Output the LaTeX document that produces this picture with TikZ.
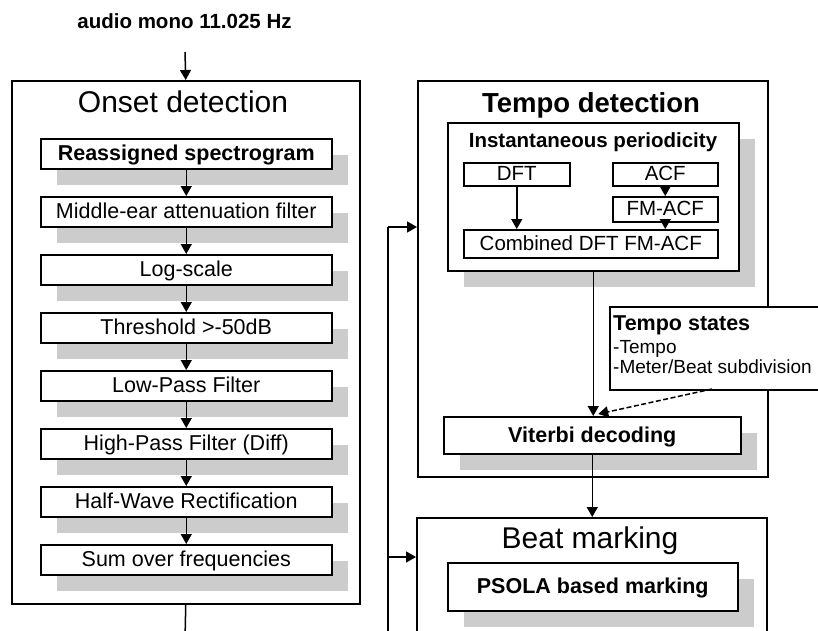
\documentclass[tikz,border=0pt]{standalone}
\usepackage{fontspec}
\setmainfont{Liberation Sans}
\usetikzlibrary{arrows.meta,shadows,calc}
\definecolor{shd}{RGB}{204,204,204}
\begin{document}
\begin{tikzpicture}[x=1pt,y=-1pt,
  every node/.style={inner sep=0pt},
  ln/.style={line width=1.5pt},
  frame/.style={draw, line width=1.5pt, anchor=north west},
  box/.style={draw, fill=white, line width=1.5pt, anchor=north west, text height=15pt, text depth=1pt, font=\fontsize{21.5}{25}\selectfont},
  sbox/.style={box, font=\fontsize{20.5}{24}\selectfont, text height=14pt},
  shd/.style={drop shadow={shadow xshift=16pt, shadow yshift=-16pt, fill=shd, opacity=1}},
  arr/.style={line width=1.5pt, -{Triangle[width=11pt,length=10pt]}},
  title/.style={anchor=base, font=\fontsize{30}{34}\selectfont},
  btitle/.style={anchor=base, font=\bfseries\fontsize{27.5}{32}\selectfont}
]
\useasboundingbox (0,0) rectangle (818,630);

% outer frames
\node[frame, minimum width=348pt, minimum height=523pt] (onset) at (11,80) {};
\node[frame, minimum width=350pt, minimum height=396pt] (tempo) at (417,80) {};
\node[frame, minimum width=350pt, minimum height=160pt] (beat) at (416,517) {};

% input
\node[anchor=base, font=\bfseries\fontsize{20.5}{24}\selectfont] (audio) at (184.5,28) {audio mono 11.025 Hz};
\coordinate (audioin) at (185,52);

% titles
\node[title] (onsett) at (183,112) {Onset detection};
\node[btitle] (tempot) at (591,112) {Tempo detection};
\node[title] (beatt) at (590,548) {Beat marking};

% onset chain
\node[box, shd, minimum width=291pt, minimum height=30pt] (o1) at (40,138) {\bfseries Reassigned spectrogram};
\node[box, shd, minimum width=291pt, minimum height=30pt] (o2) at (40,196) {Middle-ear attenuation filter};
\node[box, shd, minimum width=291pt, minimum height=30pt] (o3) at (40,254) {Log-scale};
\node[box, shd, minimum width=291pt, minimum height=30pt] (o4) at (40,312) {Threshold >-50dB};
\node[box, shd, minimum width=291pt, minimum height=30pt] (o5) at (40,370) {Low-Pass Filter};
\node[box, shd, minimum width=291pt, minimum height=30pt] (o6) at (40,428) {High-Pass Filter (Diff)};
\node[box, shd, minimum width=291pt, minimum height=30pt] (o7) at (40,486) {Half-Wave Rectification};
\node[box, shd, minimum width=291pt, minimum height=30pt] (o8) at (40,544) {Sum over frequencies};

% tempo detection
\node[draw, fill=white, line width=1.5pt, anchor=north west, shd, minimum width=291pt, minimum height=148pt] (inst) at (447,122) {};
\node[anchor=base, font=\bfseries\fontsize{20.5}{24}\selectfont] (instt) at (593,147) {Instantaneous periodicity};
\node[sbox, minimum width=106pt, minimum height=23pt] (dft) at (463,162) {DFT};
\node[sbox, minimum width=105pt, minimum height=23pt] (acf) at (612,162) {ACF};
\node[sbox, minimum width=105pt, minimum height=25pt] (fmacf) at (612,196) {FM-ACF};
\node[sbox, minimum width=254pt, minimum height=28pt] (comb) at (463,229) {Combined DFT FM-ACF};

\node[box, shd, minimum width=297pt, minimum height=37pt] (vit) at (443,416) {\bfseries Viterbi decoding};

% tempo states
\node[draw, fill=white, line width=1.5pt, anchor=north west, minimum width=230pt, minimum height=83pt] (states) at (609,306) {};
\node[anchor=base west, font=\bfseries\fontsize{21.5}{25}\selectfont] (st1) at (613,330) {Tempo states};
\node[anchor=base west, font=\fontsize{19}{23}\selectfont] (st2) at (613,353) {-Tempo};
\node[anchor=base west, font=\fontsize{19}{23}\selectfont] (st3) at (613,373) {-Meter/Beat subdivision};

% beat marking
\node[box, shd, minimum width=290pt, minimum height=48pt] (psola) at (447,562) {\bfseries PSOLA based marking};

% connectors
\draw[arr] (audioin) -- (onset.north);
\foreach \a/\b in {o1/o2,o2/o3,o3/o4,o4/o5,o5/o6,o6/o7,o7/o8}
  \draw[arr] (\a.south) -- (\b.north);

\coordinate (busbot) at (388,640);
\coordinate (onsetbot) at (185,640);
\draw[ln] (onset.south) -- (onsetbot);
\coordinate (bustop) at (388,227);
\coordinate (busmid) at (388,557);
\draw[ln] (bustop) -- (busbot);
\draw[arr] (bustop) -- (bustop -| tempo.west);
\draw[arr] (busmid) -- (busmid -| beat.west);

\draw[arr] (dft.south) -- (dft.south |- comb.north);
\draw[arr] (acf.south) -- (fmacf.north);
\draw[arr] (fmacf.south) -- (fmacf.south |- comb.north);
\draw[arr] (inst.south) -- (inst.south |- vit.north);
\coordinate (dstart) at (712,389);
\draw[arr, dash pattern=on 5pt off 2.5pt] (dstart) -- ($(vit.north)+(6,-2)$);
\draw[arr] (vit.south) -- (vit.south |- beat.north);
\end{tikzpicture}
\end{document}
